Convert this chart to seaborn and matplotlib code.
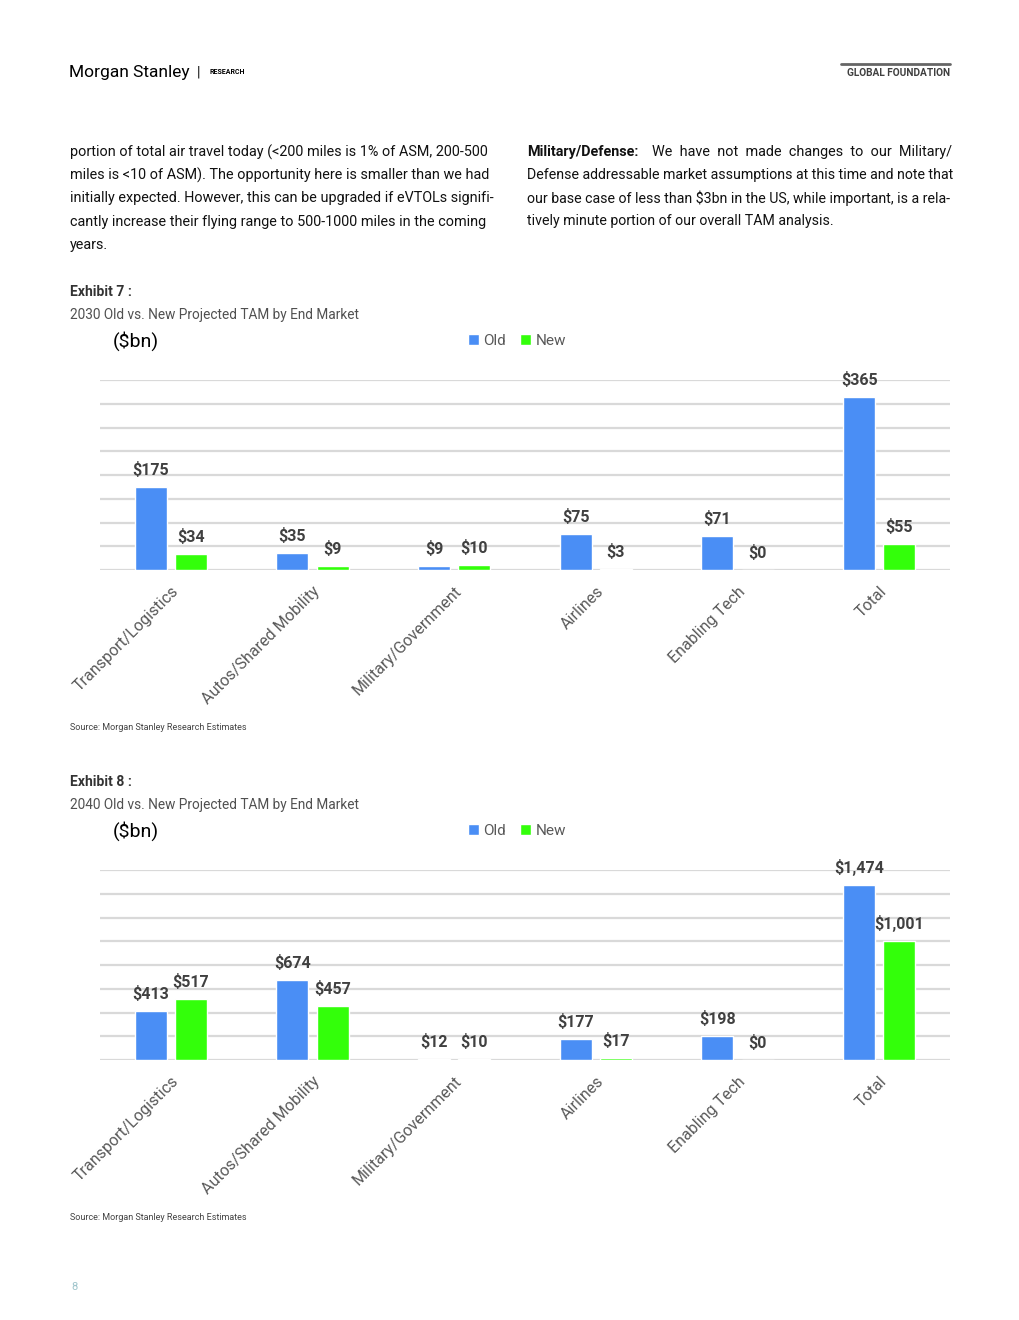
import pandas as pd
import numpy as np
import matplotlib
matplotlib.use("Agg")
import matplotlib.pyplot as plt
import seaborn as sns

categories = ['Transport/Logistics', 'Autos/Shared Mobility', 'Military/Government',
              'Airlines', 'Enabling Tech', 'Total']
old_2030 = [175, 35, 9, 75, 71, 365]
new_2030 = [34, 9, 10, 3, 0, 55]
old_2040 = [413, 674, 12, 177, 198, 1474]
new_2040 = [517, 457, 10, 17, 0, 1001]

left_par = ["portion of total air travel today (<200 miles is 1% of ASM, 200-500",
            "miles is <10 of ASM). The opportunity here is smaller than we had",
            "initially expected. However, this can be upgraded if eVTOLs signifi-",
            "cantly increase their flying range to 500-1000 miles in the coming",
            "years."]
right_par = ["Defense addressable market assumptions at this time and note that",
             "our base case of less than $3bn in the US, while important, is a rela-",
             "tively minute portion of our overall TAM analysis."]

BLUE = '#4A8EF5'
GREEN = '#33FF0A'
LABEL_COL = '#404040'
TICK_COL = '#595959'

sns.set_theme(style='white')
plt.rcParams['font.family'] = ['Roboto', 'DejaVu Sans']

W, H = 1020, 1320
fig = plt.figure(figsize=(W / 100, H / 100), dpi=100)


def fx(x):
    return x / W


def fy(y):
    return 1 - y / H


# page header
fig.text(fx(69), fy(72), 'Morgan Stanley', fontsize=12.5, color='black', va='center')
fig.text(fx(197), fy(72), '|', fontsize=10, color='black', va='center')
fig.text(fx(210), fy(72), 'RESEARCH', fontsize=5, weight='bold', color='black', va='center')
fig.text(fx(950), fy(73), 'GLOBAL FOUNDATION', fontsize=7.3, weight='bold', color='#404040',
         va='center', ha='right')
fig.add_artist(plt.Line2D([fx(841), fx(950)], [fy(64), fy(64)], color='#666666', lw=2))

# body text
for i, line in enumerate(left_par):
    fig.text(fx(70), fy(152 + i * 23.2), line, fontsize=10.4, color='#111111', va='center')
fig.text(fx(527), fy(152), 'Military/Defense:', fontsize=10.4, weight='bold', color='#111111', va='center')
fig.text(fx(652), fy(152), 'We  have  not  made  changes  to  our  Military/', fontsize=10.4,
         color='#111111', va='center')
for i, line in enumerate(right_par):
    fig.text(fx(527), fy(175 + i * 23.2), line, fontsize=10.2, color='#111111', va='center')


def draw_exhibit(top, num, year, old, new, ymax, step):
    fig.text(fx(70), fy(top), f'Exhibit {num} :', fontsize=10, weight='bold', color='#333333', va='center')
    fig.text(fx(70), fy(top + 23), f'{year} Old vs. New Projected TAM by End Market', fontsize=9.8,
             color='#505050', va='center')
    fig.text(fx(113), fy(top + 49), '($bn)', fontsize=14, color='black', va='center')

    ax_top = top + 88
    ax_bot = top + 278
    ax = fig.add_axes([fx(100), fy(ax_bot), fx(950) - fx(100), (ax_bot - ax_top) / H])
    df = pd.DataFrame({
        'category': categories * 2,
        'series': ['Old'] * len(categories) + ['New'] * len(categories),
        'value': old + new,
    })
    sns.barplot(data=df, x='category', y='value', hue='series', palette=[BLUE, GREEN],
                width=0.565, gap=0.2, ax=ax, saturation=1, errorbar=None)
    ax.set_ylim(0, ymax)
    ax.set_xlim(-0.5, len(categories) - 0.5)
    ax.set_yticks(np.arange(0, ymax + 1, step))
    ax.yaxis.grid(True, color='#D9D9D9', lw=1.6)
    ax.set_axisbelow(True)
    ax.tick_params(axis='y', left=False, labelleft=False)
    ax.tick_params(axis='x', bottom=False, pad=4)
    for s in ax.spines.values():
        s.set_visible(False)
    ax.set_xlabel('')
    ax.set_ylabel('')
    ax.set_xticks(range(len(categories)))
    ax.set_xticklabels(categories, rotation=45, ha='right', rotation_mode='anchor',
                       fontsize=11.5, color=TICK_COL)
    for cont, vals in zip(ax.containers, [old, new]):
        ax.bar_label(cont, labels=[f'${v:,}' for v in vals], padding=6.5, fontsize=11.5,
                     weight='bold', color=LABEL_COL)
    handles, labels = ax.get_legend_handles_labels()
    ax.legend(handles, labels, ncol=2, loc='center', bbox_to_anchor=(fx(517), fy(top + 49)),
              bbox_transform=fig.transFigure, frameon=False, handlelength=0.7, handleheight=0.7,
              handletextpad=0.3, columnspacing=0.9, fontsize=11, labelcolor='#595959')
    fig.text(fx(70), fy(top + 436), 'Source: Morgan Stanley Research Estimates', fontsize=6.5,
             color='#444444', va='center')


draw_exhibit(292, 7, 2030, old_2030, new_2030, 400, 50)
draw_exhibit(782, 8, 2040, old_2040, new_2040, 1600, 200)

fig.text(fx(71), fy(1287), '8', fontsize=8, color='#9FC5CC', va='center')

fig.savefig('out.png', dpi=100, facecolor='white')
